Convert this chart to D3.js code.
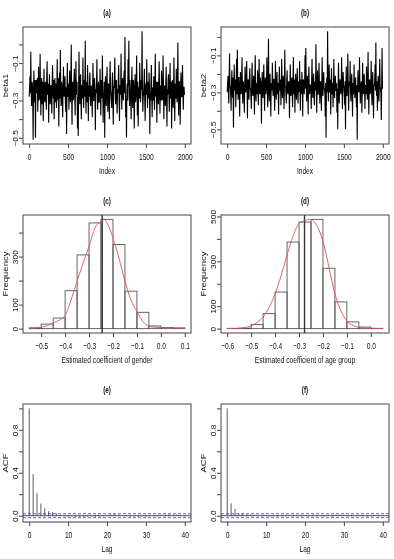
<!DOCTYPE html>
<html>
<head>
<meta charset="utf-8">
<script src="https://cdnjs.cloudflare.com/ajax/libs/d3/7.8.5/d3.min.js"></script>
<style>
  body { margin: 0; background: #fff; }
  svg { display: block; font-family: "Liberation Sans", Arial, sans-serif; }
</style>
</head>
<body>
<svg id="fig" width="394" height="559"></svg>
<script>
// ---- data ----
// MCMC traces (every 5th draw, estimated)
const traceBeta1 = [
  -0.28,-0.22,-0.17,-0.26,-0.04,-0.24,-0.33,-0.20,-0.21,-0.29,-0.51,-0.25,-0.14,-0.31,-0.30,-0.19,-0.50,-0.27,-0.19,-0.23,
  -0.26,-0.18,-0.36,-0.24,-0.12,-0.30,-0.29,-0.21,-0.05,-0.27,-0.38,-0.22,-0.18,-0.32,-0.27,-0.20,-0.41,-0.25,-0.13,-0.28,
  -0.31,-0.23,-0.20,-0.29,-0.35,-0.19,-0.09,-0.26,-0.27,-0.21,-0.42,-0.24,-0.16,-0.30,-0.32,-0.22,-0.22,-0.28,-0.37,-0.20,
  -0.11,-0.25,-0.29,-0.19,-0.40,-0.27,-0.18,-0.31,-0.25,-0.21,-0.34,-0.23,-0.08,-0.28,-0.30,-0.18,-0.44,-0.26,-0.15,-0.29,
  -0.03,-0.24,-0.33,-0.20,-0.21,-0.30,-0.39,-0.22,-0.12,-0.27,-0.28,-0.19,-0.17,-0.31,-0.36,-0.23,-0.48,-0.25,-0.10,-0.28,
  -0.26,-0.21,-0.35,-0.24,-0.14,-0.29,-0.31,-0.18,0.00,-0.26,-0.43,-0.22,-0.20,-0.30,-0.29,-0.19,-0.13,-0.27,-0.38,-0.23,
  -0.09,-0.25,-0.27,-0.20,-0.45,-0.28,-0.49,-0.23,-0.04,-0.26,-0.32,-0.19,-0.16,-0.30,-0.40,-0.22,-0.22,-0.29,-0.07,-0.24,
  -0.34,-0.21,-0.19,-0.28,0.02,-0.24,-0.37,-0.20,-0.24,-0.31,-0.11,-0.26,-0.41,-0.22,-0.28,-0.18,-0.15,-0.29,-0.33,-0.23,
  -0.22,-0.27,-0.39,-0.21,-0.10,-0.30,-0.30,-0.19,-0.18,-0.26,-0.46,-0.24,-0.26,-0.20,-0.08,-0.28,-0.35,-0.22,-0.20,-0.31,
  -0.31,-0.24,-0.13,-0.27,-0.38,-0.19,-0.24,-0.29,-0.06,-0.23,-0.42,-0.26,-0.29,-0.20,-0.50,-0.25,-0.17,-0.30,-0.33,-0.21,
  -0.12,-0.27,-0.36,-0.22,-0.21,-0.29,-0.40,-0.19,-0.09,-0.25,-0.27,-0.31,-0.34,-0.21,-0.15,-0.28,-0.43,-0.23,-0.23,-0.18,
  -0.07,-0.26,-0.32,-0.20,-0.19,-0.30,-0.37,-0.24,-0.26,-0.18,-0.11,-0.29,-0.41,-0.22,-0.22,-0.27,-0.05,-0.25,-0.35,-0.21,
  -0.18,-0.28,-0.30,-0.20,-0.14,-0.26,0.04,-0.23,-0.39,-0.29,-0.50,-0.24,-0.21,-0.30,-0.08,-0.22,0.02,-0.27,-0.33,-0.19,
  -0.25,-0.30,-0.40,-0.21,-0.12,-0.27,-0.34,-0.19,-0.20,-0.28,-0.45,-0.24,-0.16,-0.31,-0.29,-0.22,-0.06,-0.26,-0.38,-0.20,
  -0.44,-0.25,-0.23,-0.29,-0.10,-0.21,-0.31,-0.27,-0.19,-0.24,0.07,-0.22,-0.36,-0.28,-0.27,-0.20,-0.13,-0.30,-0.41,-0.23,
  -0.21,-0.27,-0.08,-0.25,-0.34,-0.20,-0.26,-0.29,-0.15,-0.22,-0.48,-0.26,-0.30,-0.19,-0.11,-0.28,-0.39,-0.23,-0.24,-0.30,
  -0.17,-0.25,-0.35,-0.21,-0.05,-0.27,-0.28,-0.20,-0.42,-0.29,-0.20,-0.24,-0.32,-0.19,-0.09,-0.26,-0.37,-0.22,-0.25,-0.30,
  -0.14,-0.23,-0.30,-0.27,-0.06,-0.21,-0.40,-0.25,-0.22,-0.29,-0.33,-0.20,-0.12,-0.28,-0.44,-0.24,-0.27,-0.19,-0.16,-0.26,
  -0.36,-0.22,-0.10,-0.28,-0.29,-0.20,-0.45,-0.25,-0.19,-0.30,-0.34,-0.23,-0.07,-0.27,-0.41,-0.21,-0.24,-0.29,-0.13,-0.25,
  -0.31,-0.22,0.01,-0.26,-0.38,-0.20,-0.20,-0.29,-0.43,-0.24,-0.15,-0.28,-0.28,-0.21,-0.11,-0.26,-0.35,-0.23,-0.23,-0.27
];
const traceBeta2 = [
  -0.30,-0.25,-0.21,-0.29,-0.36,-0.23,-0.09,-0.27,-0.27,-0.32,-0.40,-0.24,-0.18,-0.30,-0.33,-0.22,-0.49,-0.28,-0.15,-0.26,
  -0.29,-0.23,-0.38,-0.27,-0.12,-0.31,-0.07,-0.25,-0.34,-0.22,-0.22,-0.30,-0.43,-0.26,-0.19,-0.29,-0.31,-0.24,-0.11,-0.28,
  -0.36,-0.24,-0.25,-0.31,-0.41,-0.26,-0.16,-0.29,-0.30,-0.23,-0.13,-0.27,-0.44,-0.25,-0.23,-0.32,-0.34,-0.22,-0.17,-0.28,
  -0.28,-0.33,-0.39,-0.24,-0.14,-0.29,-0.32,-0.26,-0.21,-0.30,-0.42,-0.23,-0.10,-0.28,-0.35,-0.25,-0.26,-0.31,-0.18,-0.27,
  -0.37,-0.24,-0.12,-0.29,-0.31,-0.22,-0.24,-0.32,-0.47,-0.26,-0.19,-0.30,-0.33,-0.23,-0.15,-0.28,-0.40,-0.25,-0.22,-0.31,
  -0.29,-0.24,-0.11,-0.30,-0.38,-0.26,-0.01,-0.28,-0.35,-0.22,-0.20,-0.31,-0.43,-0.25,-0.26,-0.29,-0.14,-0.27,-0.32,-0.23,
  -0.23,-0.30,-0.40,-0.26,-0.13,-0.28,-0.34,-0.24,-0.19,-0.31,-0.30,-0.25,-0.42,-0.27,-0.16,-0.29,-0.28,-0.23,-0.37,-0.26,
  -0.12,-0.28,-0.33,-0.24,-0.21,-0.30,-0.39,-0.25,-0.07,-0.27,-0.27,-0.32,-0.36,-0.23,-0.18,-0.29,-0.31,-0.26,-0.24,-0.28,
  -0.44,-0.27,-0.15,-0.30,-0.32,-0.24,-0.22,-0.28,-0.38,-0.25,-0.11,-0.31,-0.29,-0.23,-0.41,-0.27,-0.20,-0.29,-0.34,-0.25,
  -0.17,-0.29,-0.36,-0.24,-0.25,-0.30,-0.13,-0.27,-0.40,-0.23,-0.28,-0.31,-0.19,-0.26,-0.43,-0.25,-0.23,-0.29,-0.31,-0.24,
  -0.10,-0.28,-0.06,-0.25,-0.35,-0.30,-0.21,-0.27,-0.42,-0.24,-0.16,-0.31,-0.30,-0.26,-0.26,-0.29,-0.39,-0.23,-0.12,-0.28,
  -0.33,-0.25,-0.20,-0.30,-0.37,-0.24,-0.27,-0.29,-0.04,-0.26,-0.41,-0.28,-0.18,-0.31,-0.31,-0.23,-0.14,-0.27,-0.36,-0.25,
  -0.24,-0.29,-0.40,-0.26,-0.11,-0.30,-0.32,-0.24,-0.19,-0.28,-0.28,-0.31,-0.43,-0.25,-0.545,-0.27,-0.22,-0.30,0.03,-0.26,
  -0.35,-0.24,-0.15,-0.29,-0.30,-0.23,-0.42,-0.27,-0.17,-0.31,-0.26,-0.25,-0.38,-0.28,-0.12,-0.30,-0.33,-0.24,-0.21,-0.29,
  -0.29,-0.25,-0.41,-0.28,-0.50,-0.26,-0.14,-0.30,-0.36,-0.24,-0.23,-0.29,-0.31,-0.27,-0.11,-0.25,-0.39,-0.31,-0.19,-0.26,
  -0.27,-0.30,-0.37,-0.24,-0.50,-0.28,-0.16,-0.31,-0.32,-0.25,-0.09,-0.27,-0.40,-0.29,-0.24,-0.26,-0.13,-0.30,-0.35,-0.24,
  -0.20,-0.28,-0.43,-0.25,-0.28,-0.31,-0.15,-0.27,-0.33,-0.24,-0.22,-0.29,-0.38,-0.26,-0.556,-0.30,-0.18,-0.25,-0.30,-0.28,
  -0.11,-0.26,-0.36,-0.29,-0.25,-0.24,-0.41,-0.30,-0.14,-0.27,-0.31,-0.23,-0.20,-0.29,-0.39,-0.26,-0.27,-0.31,-0.16,-0.25,
  -0.34,-0.27,-0.08,-0.29,-0.42,-0.24,-0.23,-0.31,-0.30,-0.26,-0.13,-0.28,-0.37,-0.25,-0.19,-0.30,-0.44,-0.27,-0.26,-0.24,
  -0.15,-0.29,-0.03,-0.26,-0.32,-0.24,-0.40,-0.28,-0.21,-0.30,-0.35,-0.25,-0.12,-0.27,-0.28,-0.31,-0.45,-0.26,-0.06,-0.28
];
const traceStep = 5;

// histograms
const breaksGender = [-0.55,-0.5,-0.45,-0.4,-0.35,-0.3,-0.25,-0.2,-0.15,-0.1,-0.05,0,0.05,0.1];
const countsGender = [3,19,44,158,307,440,455,350,156,68,11,5,3];
const meanGender = -0.245;
const densXGender = [-0.55,-0.525,-0.5,-0.475,-0.45,-0.425,-0.4,-0.375,-0.35,-0.325,-0.3,-0.275,-0.25,-0.24,-0.225,-0.2,-0.175,-0.15,-0.125,-0.1,-0.075,-0.05,-0.025,0,0.025,0.05,0.075,0.1];
const densYGender = [2,3,6,12,24,35,55,120,197,273,343,420,447,457,440,378,294,197,120,72,30,10,6,4,3,2,2,1];

const breaksAge = [-0.6,-0.55,-0.5,-0.45,-0.4,-0.35,-0.3,-0.25,-0.2,-0.15,-0.1,-0.05,0,0.05];
const countsAge = [1,2,18,67,163,386,475,487,269,119,30,7,1];
const meanAge = -0.277;
const densXAge = [-0.6,-0.575,-0.55,-0.525,-0.5,-0.475,-0.45,-0.425,-0.4,-0.375,-0.35,-0.325,-0.3,-0.275,-0.255,-0.225,-0.2,-0.175,-0.15,-0.125,-0.1,-0.075,-0.05,-0.025,0,0.025,0.05];
const densYAge = [1,1,2,5,13,28,52,95,155,235,328,412,468,482,487,458,389,275,155,80,33,14,6,3,2,1,1];

// autocorrelation, lags 0..40
const acfBeta1 = [1.00,0.387,0.21,0.113,0.068,0.042,0.033,0.02,0.008,-0.006,-0.008,-0.01,-0.012,-0.01,-0.009,-0.011,-0.008,-0.01,-0.007,-0.006,0.006,0.012,0.015,0.01,0.004,-0.006,-0.009,-0.008,-0.01,-0.007,-0.009,-0.006,-0.005,-0.004,0.008,0.01,0.012,0.009,0.011,0.008,-0.006];
const acfBeta2 = [1.00,0.115,0.063,0.022,0.018,0.014,0.01,0.008,0.006,-0.006,0.007,-0.008,0.006,-0.007,0.005,-0.006,0.007,-0.005,0.006,-0.007,0.005,-0.006,0.008,-0.005,0.006,-0.007,0.005,-0.006,0.007,0.009,0.006,-0.005,0.007,-0.006,0.005,0.006,-0.007,0.005,0.006,-0.005,0.006];
const acfBand = 0.018;

const panelTitles = ["(a)","(b)","(c)","(d)","(e)","(f)"];

// ---- layout ----
const SX = 0.7;             // the figure is squeezed horizontally
const SXR = 0.85;           // rotated text is squeezed less
const cols = [{x0: 23, x1: 191}, {x0: 221, x1: 389}];
const rows = [{y0: 27, y1: 144}, {y0: 215, y1: 333}, {y0: 404, y1: 522}];
const ink = "#111";

const svg = d3.select("#fig");

// grey filter for text, so the glyphs get plain grey antialiasing
svg.append("defs").append("filter").attr("id", "grey")
  .attr("x", 0).attr("y", 0).attr("width", 1).attr("height", 1)
  .append("feColorMatrix").attr("type", "saturate").attr("values", 0);

function rpad(lo, hi) {
  const d = (hi - lo) * 0.04;
  return [lo - d, hi + d];
}

function txt(g, x, y, s, size, rot, weight) {
  g.append("text")
    .attr("transform", `translate(${x},${y}) scale(${rot ? SXR : SX},1)` + (rot ? " rotate(-90)" : ""))
    .attr("text-anchor", "middle")
    .attr("font-size", size)
    .attr("font-weight", weight || "normal")
    .attr("fill", ink)
    .text(s);
}

function frame(c, r, xs, ys, xticks, yticks, ylabs, title, xlab, ylab) {
  const g = svg.append("g").attr("filter", "url(#grey)");
  const cx = (c.x0 + c.x1) / 2;
  const cy = (r.y0 + r.y1) / 2;

  const ax = g.append("g").attr("transform", `translate(0,${r.y1})`)
    .call(d3.axisBottom(xs).tickValues(xticks).tickSize(4).tickSizeOuter(0).tickFormat(d3.format(xticks.fmt || "")));
  ax.select(".domain").remove();
  ax.selectAll("line").attr("stroke", ink).attr("stroke-width", 0.8);
  ax.selectAll("text")
    .attr("y", null).attr("dy", null)
    .attr("transform", `translate(0,16) scale(${SX},1)`)
    .attr("font-size", 9.5).attr("font-family", null).attr("fill", ink);

  const ay = g.append("g").attr("transform", `translate(${c.x0},0)`)
    .call(d3.axisLeft(ys).tickValues(yticks).tickSize(4).tickSizeOuter(0)
      .tickFormat(d => ylabs.has(+d.toFixed(3)) ? ylabs.fmt(d) : ""));
  ay.select(".domain").remove();
  ay.selectAll("line").attr("stroke", ink).attr("stroke-width", 0.8);
  ay.selectAll("text")
    .attr("x", null).attr("dy", null)
    .attr("text-anchor", "middle")
    .attr("transform", `translate(-5.5,0) scale(${SXR},1) rotate(-90)`)
    .attr("font-size", 8.5).attr("font-family", null).attr("fill", ink);

  txt(g, cx, r.y0 - 11, title, 9, false, "bold");
  txt(g, cx, r.y1 + 30, xlab, 9.5);
  txt(g, c.x0 - 15, cy, ylab, 9.5, true);

  // marks go in their own group, outside the grey filter
  return svg.append("g");
}

function box(g, c, r) {
  g.append("rect")
    .attr("x", c.x0).attr("y", r.y0)
    .attr("width", c.x1 - c.x0).attr("height", r.y1 - r.y0)
    .attr("fill", "none").attr("stroke", "#444").attr("stroke-width", 1);
}

// ---- trace plots ----
[traceBeta1, traceBeta2].forEach((vals, k) => {
  const c = cols[k], r = rows[0];
  const x = d3.scaleLinear().domain(rpad(1, 2000)).range([c.x0, c.x1]);
  const y = d3.scaleLinear().domain(rpad(d3.min(vals), d3.max(vals))).range([r.y1, r.y0]);
  const yt = [-0.5,-0.4,-0.3,-0.2,-0.1,0.0];
  const labs = new Set([-0.1,-0.3,-0.5]);
  labs.fmt = d3.format(".1f");
  const g = frame(c, r, x, y, [0,500,1000,1500,2000], yt, labs,
    panelTitles[k], "Index", k === 0 ? "beta1" : "beta2");
  g.append("path")
    .datum(vals)
    .attr("fill", "none")
    .attr("stroke", "#000")
    .attr("stroke-width", 1.1)
    .attr("d", d3.line().x((d, i) => x(1 + i * traceStep)).y(d => y(d)));
  box(g, c, r);
});

// ---- histograms ----
[[breaksGender, countsGender, meanGender, densXGender, densYGender, "Estimated coefficient of gender",
  [-0.5,-0.4,-0.3,-0.2,-0.1,0.0,0.1], [0,100,200,300,400], [0,100,300]],
 [breaksAge, countsAge, meanAge, densXAge, densYAge, "Estimated coefficient of age group",
  [-0.6,-0.5,-0.4,-0.3,-0.2,-0.1,0.0], [0,100,200,300,400,500], [0,100,300,500]]
].forEach(([br, cnt, mu, dx, dy, xlab, xt, yt, yl], k) => {
  const c = cols[k], r = rows[1];
  const x = d3.scaleLinear().domain(rpad(br[0], br[br.length - 1])).range([c.x0, c.x1]);
  const y = d3.scaleLinear().domain(rpad(0, d3.max(cnt))).range([r.y1, r.y0]);
  const labs = new Set(yl);
  labs.fmt = d3.format("d");
  xt.fmt = ".1f";
  const g = frame(c, r, x, y, xt, yt, labs, panelTitles[2 + k], xlab, "Frequency");
  g.append("g").selectAll("rect")
    .data(cnt)
    .join("rect")
    .attr("x", (d, i) => x(br[i]))
    .attr("y", d => y(d))
    .attr("width", (d, i) => x(br[i + 1]) - x(br[i]))
    .attr("height", d => y(0) - y(d))
    .attr("fill", "none")
    .attr("stroke", "#555")
    .attr("stroke-width", 0.9);
  g.append("line")
    .attr("x1", x(mu)).attr("x2", x(mu))
    .attr("y1", r.y0).attr("y2", r.y1)
    .attr("stroke", "#333").attr("stroke-width", 1.4);
  g.append("path")
    .datum(dx.map((v, i) => [v, dy[i]]))
    .attr("fill", "none")
    .attr("stroke", "#e0505a")
    .attr("stroke-width", 0.9)
    .attr("d", d3.line().curve(d3.curveMonotoneX).x(d => x(d[0])).y(d => y(d[1])));
  box(g, c, r);
});

// ---- autocorrelation ----
[acfBeta1, acfBeta2].forEach((vals, k) => {
  const c = cols[k], r = rows[2];
  const lags = vals.map((d, i) => i);
  const x = d3.scaleLinear().domain(rpad(0, 40)).range([c.x0, c.x1]);
  const y = d3.scaleLinear().domain(rpad(Math.min(d3.min(vals), -acfBand), 1)).range([r.y1, r.y0]);
  const labs = new Set([0, 0.4, 0.8]);
  labs.fmt = d3.format(".1f");
  const g = frame(c, r, x, y, [0,10,20,30,40], [0,0.2,0.4,0.6,0.8,1.0], labs,
    panelTitles[4 + k], "Lag", "ACF");
  g.append("g").selectAll("line")
    .data(vals)
    .join("line")
    .attr("x1", (d, i) => x(lags[i])).attr("x2", (d, i) => x(lags[i]))
    .attr("y1", y(0)).attr("y2", d => y(d))
    .attr("stroke", "#333").attr("stroke-width", 0.8);
  g.append("line")
    .attr("x1", c.x0).attr("x2", c.x1).attr("y1", y(0)).attr("y2", y(0))
    .attr("stroke", "#222").attr("stroke-width", 0.8);
  [acfBand, -acfBand].forEach(b => {
    g.append("line")
      .attr("x1", c.x0).attr("x2", c.x1).attr("y1", y(b)).attr("y2", y(b))
      .attr("stroke", "#3a3ac8").attr("stroke-width", 0.8)
      .attr("stroke-dasharray", "3,2");
  });
  box(g, c, r);
});
</script>
</body>
</html>
